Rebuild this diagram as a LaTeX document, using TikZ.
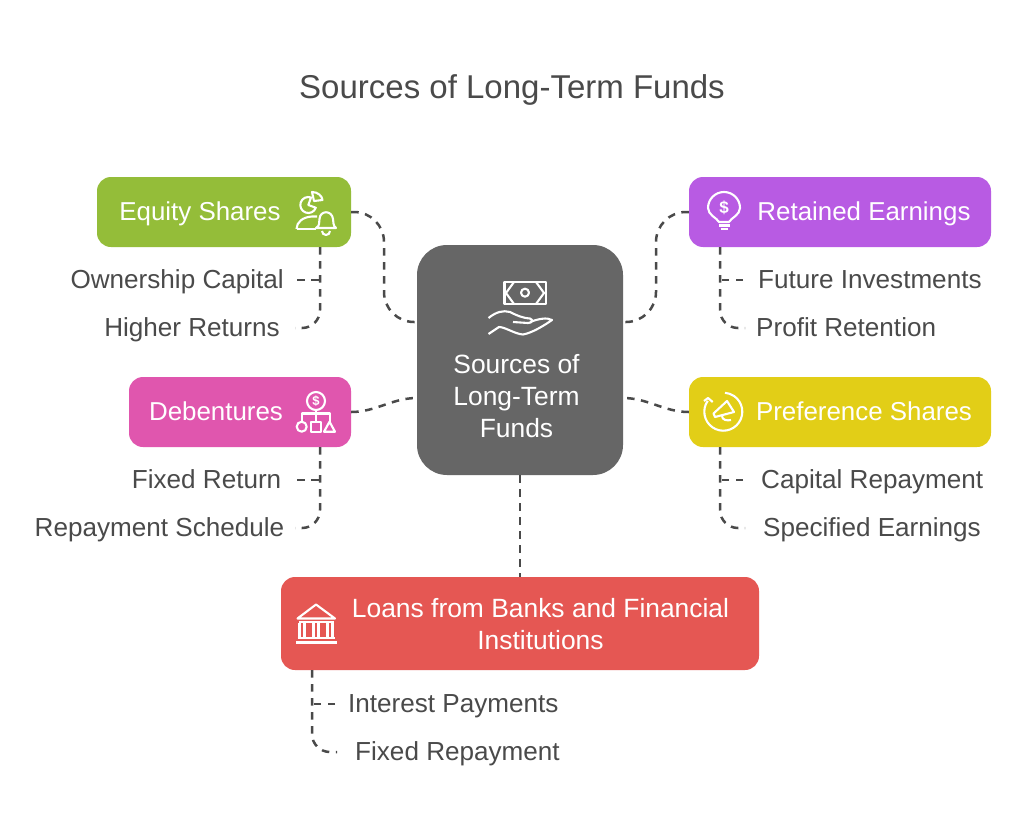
\documentclass[tikz,border=0pt]{standalone}
\usepackage{fontspec}
\setmainfont{Liberation Sans}
\usetikzlibrary{positioning}
\definecolor{mgreen}{HTML}{94BD39}
\definecolor{mpurple}{HTML}{B85BE3}
\definecolor{mpink}{HTML}{E056AE}
\definecolor{myellow}{HTML}{E2CE17}
\definecolor{mred}{HTML}{E55753}
\definecolor{mgray}{HTML}{666666}
\definecolor{mtext}{HTML}{4A4A4A}
\tikzset{box/.style = {rounded corners=14pt, minimum height=70, inner sep=0},
         boxtext/.style = {white, font=\fontsize{26.4}{32}\selectfont, align=center, inner sep=0},
         boxline/.style = {boxtext, font=\fontsize{25.9}{32}\selectfont, text height=17, text depth=0},
         subtext/.style = {mtext, font=\fontsize{26.1}{32}\selectfont, inner ysep=0, text height=17, text depth=0},
         link/.style = {mtext, line width=2.5pt, dash pattern=on 7.5pt off 6.5pt},
         icon/.style = {white, line width=2.1pt, line join=round}}

\begin{document}
\begin{tikzpicture}[x=1pt, y=-1pt]
    \useasboundingbox [fill=white] (0, 0) rectangle (1024, 832);

    \node [mtext, font=\fontsize{33}{38}\selectfont, inner sep=0, text height=23, text depth=0] (title) at (512, 87) {Sources of Long-Term Funds};

    % boxes
    \node [box, fill=mgray, rounded corners=30pt, minimum width=206, minimum height=230] (hub) at (520, 360) {};
    \node [box, fill=mgreen, minimum width=254] (equity) at (224, 212) {};
    \node [box, fill=mpurple, minimum width=302] (retained) at (840, 212) {};
    \node [box, fill=mpink, minimum width=222] (debentures) at (240, 412) {};
    \node [box, fill=myellow, minimum width=302] (preference) at (840, 412) {};
    \node [box, fill=mred, minimum width=478, minimum height=93] (loans) at (520, 623.5) {};

    \node [boxtext] (hubtext) at (516.5, 396) {Sources of\\Long-Term\\Funds};
    \node [boxline] (equitytext) at (200, 212) {Equity Shares};
    \node [boxline] (retainedtext) at (864, 212) {Retained Earnings};
    \node [boxline] (debenturestext) at (216, 412) {Debentures};
    \node [boxline] (preferencetext) at (864, 412) {Preference Shares};
    \node [boxtext] (loanstext) at (540.5, 624) {Loans from Banks and Financial\\Institutions};

    % sub items
    \node [subtext, anchor=east, inner xsep=13] (ownership) at (297, 280) {Ownership Capital};
    \node [subtext, anchor=east, inner xsep=15] (returns) at (295, 328) {Higher Returns};
    \node [subtext, anchor=east, inner xsep=15.5] (fixedreturn) at (297, 480) {Fixed Return};
    \node [subtext, anchor=east, inner xsep=10.5] (schedule) at (295, 528) {Repayment Schedule};
    \node [subtext, anchor=west, inner xsep=15] (future) at (743, 280) {Future Investments};
    \node [subtext, anchor=west, inner xsep=11] (profit) at (745, 328) {Profit Retention};
    \node [subtext, anchor=west, inner xsep=18] (capital) at (743, 480) {Capital Repayment};
    \node [subtext, anchor=west, inner xsep=18] (earnings) at (745, 528) {Specified Earnings};
    \node [subtext, anchor=west, inner xsep=13] (interest) at (335, 704) {Interest Payments};
    \node [subtext, anchor=west, inner xsep=18] (repayment) at (337, 752) {Fixed Repayment};

    \coordinate (equitystem) at (320, 247);
    \coordinate (debenturesstem) at (320, 447);
    \coordinate (retainedstem) at (720, 247);
    \coordinate (preferencestem) at (720, 447);
    \coordinate (loansstem) at (312, 670);
    \coordinate (hubul) at (417, 322);
    \coordinate (hubur) at (623, 322);
    \coordinate (hubll) at (417, 398);
    \coordinate (hublr) at (623, 398);
    \coordinate (hubbottom) at (520, 475);

    % links to the hub
    \draw [link, rounded corners=30pt] (equity.east) -- (384, 212) -- (384, 322) -- (hubul);
    \draw [link, rounded corners=30pt] (retained.west) -- (656, 212) -- (656, 322) -- (hubur);
    \draw [link] (debentures.east) .. controls (376, 412) and (392, 398) .. (hubll);
    \draw [link] (preference.west) .. controls (664, 412) and (648, 398) .. (hublr);
    \draw [link] (hubbottom) -- (hubbottom |- loans.north);

    % links to the sub items
    \draw [link] (ownership.east) -- (ownership.east -| equitystem);
    \draw [link, rounded corners=18pt] (equitystem) |- (returns.east);
    \draw [link] (fixedreturn.east) -- (fixedreturn.east -| debenturesstem);
    \draw [link, rounded corners=18pt] (debenturesstem) |- (schedule.east);
    \draw [link] (future.west) -- (future.west -| retainedstem);
    \draw [link, rounded corners=18pt] (retainedstem) |- (profit.west);
    \draw [link] (capital.west) -- (capital.west -| preferencestem);
    \draw [link, rounded corners=18pt] (preferencestem) |- (earnings.west);
    \draw [link] (interest.west) -- (interest.west -| loansstem);
    \draw [link, rounded corners=18pt] (loansstem) |- (repayment.west);

    % money in a hand
    \draw [icon] (504.5, 282) rectangle (546, 304);
    \draw [icon] (514, 282) -- (506, 293) -- (514, 304);
    \draw [icon] (536, 282) -- (544, 293) -- (536, 304);
    \draw [icon] (525, 292.7) circle [radius=4];
    \draw [icon] (488.5, 318) .. controls (496, 312) and (503, 310) .. (510, 312) .. controls (516, 315) and (522, 318) .. (530, 318.5) .. controls (534, 320) and (532, 323) .. (528, 323) -- (513, 322);
    \draw [icon] (488.5, 334) -- (499, 327) .. controls (505, 327) and (515, 334) .. (523, 334.5) .. controls (532, 333) and (545, 325) .. (552, 320) .. controls (547, 317) and (538, 319) .. (530, 322);

    % person, chart and bell
    \draw [icon] (308.3, 205) ++(290:8) arc (290:20:8) -- (308.3, 205) -- cycle;
    \draw [icon] (312, 192) .. controls (318, 192) and (322, 196) .. (322.5, 200) -- (314, 201) -- cycle;
    \draw [icon] (296.5, 229) .. controls (296.5, 222) and (303, 217) .. (312, 216.5) -- (317, 216.5);
    \draw [icon] (296.5, 229) -- (316, 229);
    \draw [icon] (316, 228) .. controls (320, 226) and (319, 222) .. (319.5, 219) .. controls (320, 210) and (332, 210) .. (333, 219) .. controls (333.5, 222) and (333, 226) .. (336, 228) -- cycle;
    \draw [icon] (322, 231) arc (180:0:4);

    % bulb
    \draw [icon] (719, 222) .. controls (717, 218) and (708, 215) .. (708, 208) arc (180:360:16) .. controls (740, 215) and (731, 218) .. (729, 222) -- cycle;
    \draw [icon] (719, 225.5) -- (729.5, 225.5);
    \draw [icon] (720.5, 229) -- (728, 229);
    \node [white, font=\fontsize{17}{17}\bfseries\selectfont, inner sep=0] (bulbsign) at (724, 208) {\$};

    % chart of shapes
    \draw [icon] (316, 401) circle [radius=9];
    \node [white, font=\fontsize{13}{13}\bfseries\selectfont, inner sep=0] (chartsign) at (316, 401) {\$};
    \draw [icon] (316, 410) -- (316, 421.7);
    \draw [icon] (301.7, 421.7) -- (301.7, 413.5) -- (330, 413.5) -- (330, 421.7);
    \draw [icon] (301.7, 426.7) circle [radius=5];
    \draw [icon] (310.7, 421.7) rectangle (320.7, 431.7);
    \draw [icon] (324, 431.7) -- (329.5, 421.7) -- (335, 431.7) -- cycle;

    % megaphone in a cycle
    \draw [icon] (723.3, 411.7) ++(215:19) arc (215:-85:19);
    \draw [icon] (704, 401) -- (708, 398) -- (712.7, 402);
    \draw [icon] (727, 401) -- (734, 412) -- (715, 417) -- (713.5, 413.5) -- cycle;
    \draw [icon] (722, 416) .. controls (722, 420) and (727, 421) .. (731, 420);

    % bank
    \draw [icon] (316, 604.5) -- (335, 618.5) -- (297.5, 618.5) -- cycle;
    \draw [icon] (299, 622) -- (333.5, 622);
    \foreach \colx in {302, 316, 330}
      \draw [icon] (\colx-2.5, 623) -- (\colx-2.5, 637) (\colx+2.5, 623) -- (\colx+2.5, 637);
    \draw [icon] (297.5, 638) -- (335, 638);
    \draw [icon] (296, 642.5) -- (336.5, 642.5);
\end{tikzpicture}
\end{document}
